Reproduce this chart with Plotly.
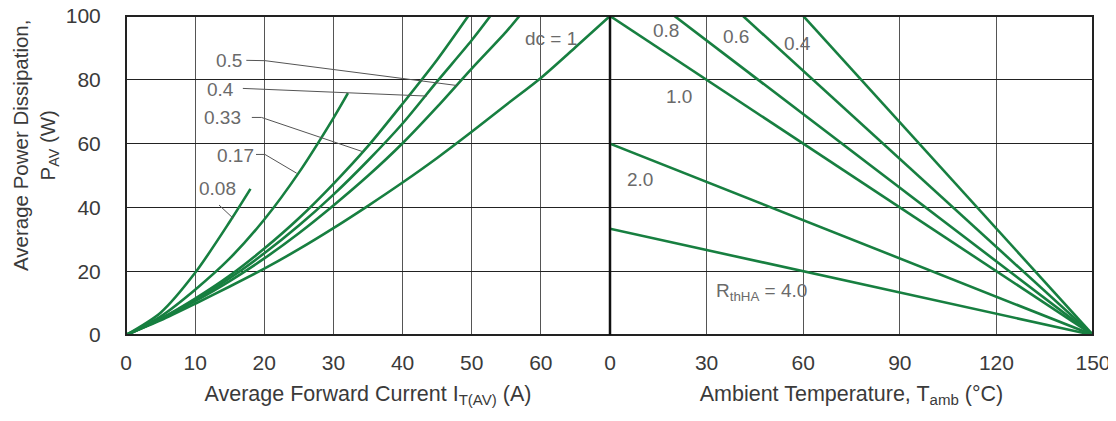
import plotly.graph_objects as go

# ---------------- data ----------------
# Left panel: P_AV (W) vs I_T(AV) (A) for conduction ratios
I_dc = [0, 5, 10, 15, 20, 25, 30, 35, 40, 45, 50, 55, 60, 65, 70]
P_dc = [0, 4.6, 9.8, 15.2, 20.8, 26.9, 33.5, 40.5, 47.8, 55.5, 63.7, 72.2, 80.6, 90.2, 100]

I_05 = [0, 5, 10, 15, 20, 25, 30, 35, 40, 45, 50, 55, 56.9]
P_05 = [0, 4.9, 10.6, 16.9, 24.0, 31.9, 40.6, 49.9, 60.1, 71.5, 83.5, 95.1, 100]

I_04 = [0, 5, 10, 15, 20, 25, 30, 35, 40, 45, 50, 52.7]
P_04 = [0, 5.0, 11.0, 17.8, 25.6, 34.3, 44.0, 54.7, 66.3, 79.5, 92.4, 100]

I_033 = [0, 5, 10, 15, 20, 25, 30, 35, 40, 45, 49.5]
P_033 = [0, 5.1, 11.4, 18.6, 27.1, 36.6, 47.4, 59.2, 72.5, 86.3, 100]

I_017 = [0, 5, 10, 15, 20, 25, 30, 32.1]
P_017 = [0, 5.8, 14.2, 24.0, 36.2, 50.9, 68.0, 75.8]

I_008 = [0, 5, 10, 15, 18]
P_008 = [0, 7.0, 19.5, 35.5, 45.8]

duty_curves = [
    ("dc = 1", I_dc, P_dc),
    ("0.5", I_05, P_05),
    ("0.4", I_04, P_04),
    ("0.33", I_033, P_033),
    ("0.17", I_017, P_017),
    ("0.08", I_008, P_008),
]

# Right panel: P_AV (W) vs T_amb (°C) for heatsink thermal resistances
T_amb = [0, 150]
R_thHA = ["0.4", "0.6", "0.8", "1.0", "2.0", "4.0"]
P_at_T0 = [166.7, 138.0, 115.4, 100.0, 60.0, 33.3]

left_ticks = [0, 10, 20, 30, 40, 50, 60]
right_ticks = [0, 30, 60, 90, 120, 150]
y_ticks = [0, 20, 40, 60, 80, 100]

GREEN = "#177f40"
LBL = "#6a6a6a"
TXT = "#3a3a3a"
FONT = "Liberation Sans, Arial, sans-serif"

fig = go.Figure()

for name, xs, ys in duty_curves:
    fig.add_trace(go.Scatter(x=xs, y=ys, mode="lines", name=name,
                             line=dict(color=GREEN, width=2.6, shape="spline", smoothing=0.8),
                             xaxis="x", yaxis="y", showlegend=False, hoverinfo="skip"))

for r, p0 in zip(R_thHA, P_at_T0):
    fig.add_trace(go.Scatter(x=T_amb, y=[p0, 0], mode="lines", name=r,
                             line=dict(color=GREEN, width=2.6),
                             xaxis="x2", yaxis="y", showlegend=False, hoverinfo="skip"))

# leader lines for duty labels
leaders = [
    ([17.4, 20.1, 47.9], [86.1, 86.0, 78.2]),
    ([16.9, 43.5], [77.3, 74.9]),
    ([18.2, 19.6, 34.2], [68.2, 68.2, 57.5]),
    ([18.8, 20.1, 24.7], [56.6, 56.6, 50.7]),
    ([13.45, 15.5], [40.75, 36.6]),
]
for lx, ly in leaders:
    fig.add_trace(go.Scatter(x=lx, y=ly, mode="lines", line=dict(color="#555555", width=1),
                             xaxis="x", yaxis="y", showlegend=False, hoverinfo="skip"))

split = 484 / 967

axis_common = dict(showgrid=True, gridcolor="#555555", gridwidth=1, zeroline=False,
                   showline=False, ticks="outside", ticklen=9, tickcolor="rgba(0,0,0,0)",
                   automargin=False, ticklabeloverflow="allow",
                   tickfont=dict(family=FONT, size=21, color=TXT),
                   title_font=dict(family=FONT, size=21.5, color=TXT))

# page body has an 8px margin: figure is sized so the plot area lands at
# x 126..1093, y 16..335 of the window
fig.update_layout(
    width=1108, height=413,
    margin=dict(l=118, r=23, t=8, b=86),
    paper_bgcolor="white", plot_bgcolor="white",
    font=dict(family=FONT),
    xaxis=dict(domain=[0, split], range=[0, 70], tickvals=left_ticks, anchor="y",
               title=dict(text="Average Forward Current I<sub>T(AV)</sub> (A)", standoff=12),
               **axis_common),
    xaxis2=dict(domain=[split, 1], range=[0, 150], tickvals=right_ticks, anchor="y",
                title=dict(text="Ambient Temperature, T<sub>amb</sub> (°C)", standoff=12),
                **axis_common),
    yaxis=dict(range=[0, 100], tickvals=y_ticks, showgrid=True, gridcolor="#222222",
               zeroline=False, showline=False, ticks="outside", ticklen=20,
               tickcolor="rgba(0,0,0,0)", automargin=False, ticklabeloverflow="allow",
               tickfont=dict(family=FONT, size=21, color=TXT)),
)

# frame and divider
fig.add_shape(type="rect", xref="paper", yref="paper", x0=0, x1=1, y0=0, y1=1,
              line=dict(color="#222222", width=2), layer="above")
fig.add_shape(type="line", xref="paper", yref="paper", x0=split, x1=split, y0=0, y1=1,
              line=dict(color="#111111", width=2.5), layer="above")

lab = dict(showarrow=False, font=dict(family=FONT, size=19, color=LBL))
left_labels = [("0.5", 14.9, 85.9), ("0.4", 13.6, 77.1), ("0.33", 13.9, 68.3),
               ("0.17", 15.8, 56.4), ("0.08", 13.3, 45.8), ("dc = 1", 61.5, 93.1)]
for t, x, y in left_labels:
    fig.add_annotation(text=t, x=x, y=y, xref="x", yref="y", **lab)

right_labels = [("0.8", 17.4, 95.6), ("0.6", 39.2, 93.7), ("0.4", 58.1, 91.5),
                ("1.0", 21.4, 74.9), ("2.0", 9.3, 48.6),
                ("R<sub>thHA</sub> = 4.0", 47.2, 13.6)]
for t, x, y in right_labels:
    fig.add_annotation(text=t, x=x, y=y, xref="x2", yref="y", **lab)

fig.add_annotation(text="Average Power Dissipation,<br>P<sub>AV</sub> (W)",
                   xref="paper", yref="paper", x=0, y=(335 - 146) / 319,
                   xanchor="center", yanchor="middle",
                   xshift=-91, textangle=-90, showarrow=False,
                   font=dict(family=FONT, size=20.5, color=TXT))

fig.write_html("out.html")
